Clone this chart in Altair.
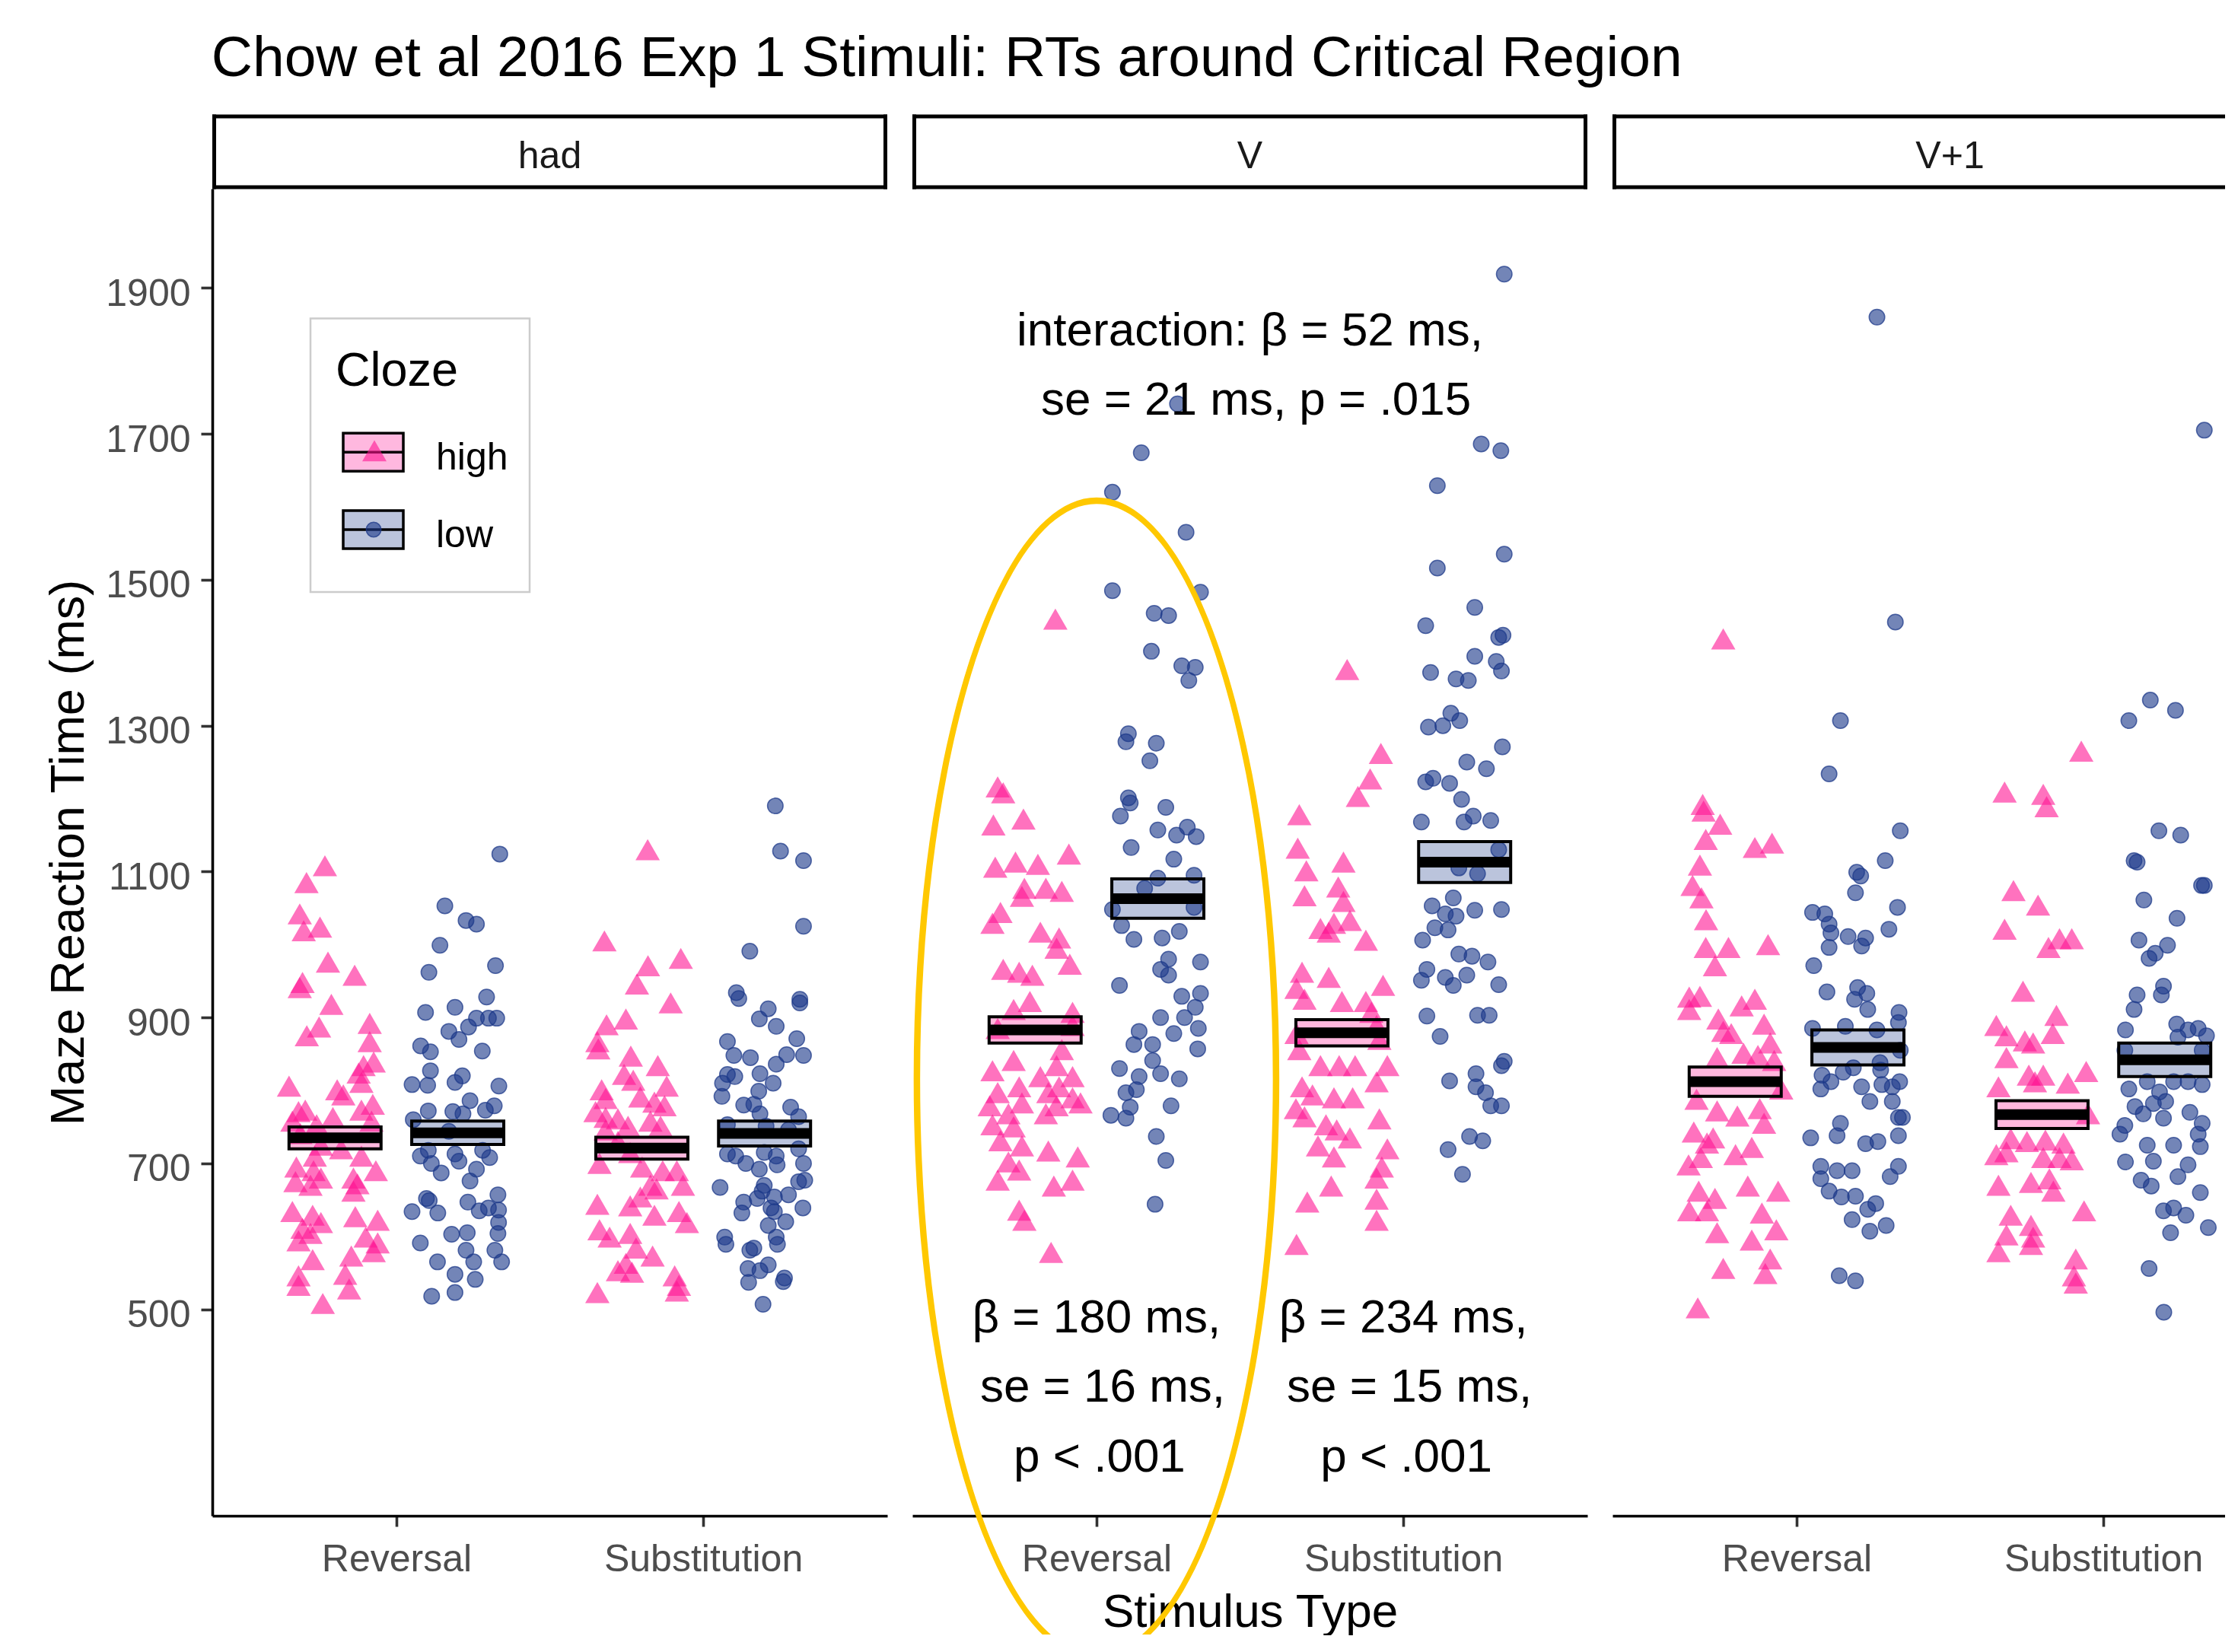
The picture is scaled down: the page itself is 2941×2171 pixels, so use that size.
import altair as alt
import pandas as pd

FONT = "Liberation Sans"
PINK = "#FF1493"
NAVY = "#1D3A8A"
PINK_LIGHT = "#FFB8DF"
NAVY_LIGHT = "#BBC4DC"
GOLD = "#FFC800"

# ---------------- data ----------------
panels = ["had", "V", "V+1"]
stimuli = ["Reversal", "Substitution"]
cloze_levels = ["high", "low"]

# RTs (ms) and horizontal jitter (category units) of every point
had_rev_high_rt = [1108, 1085, 1042, 1019, 1024, 976, 958, 948, 941, 918, 892, 887, 875, 867, 834, 839, 806, 801, 794, 811,
                   824, 771, 773, 781, 773, 763, 753, 758, 758, 741, 725, 720, 710, 710, 695, 690, 680, 680, 672, 690,
                   675, 670, 662, 634, 629, 619, 627, 622, 611, 594, 604, 599, 591, 579, 568, 573, 546, 548, 533, 528, 508]
had_rev_high_jit = [-0.033, -0.093, -0.115, -0.102, -0.049, -0.023, 0.064, -0.106, -0.115, -0.012, 0.113, -0.052, -0.092, 0.113,
                    0.093, 0.126, -0.150, 0.007, 0.027, 0.086, 0.077, -0.119, -0.097, 0.123, 0.086, -0.007, -0.060, -0.139,
                    0.119, -0.113, -0.046, 0.020, 0.086, -0.066, -0.126, -0.070, -0.046, 0.060, 0.073, 0.133, -0.129, -0.080,
                    0.060, -0.139, -0.073, -0.046, 0.066, 0.139, -0.106, -0.119, -0.080, 0.100, 0.139, 0.126, -0.073, 0.053,
                    -0.119, 0.033, -0.119, 0.046, -0.040]
had_rev_low_rt = [1124, 1053, 1033, 1028, 999, 971, 962, 928, 907, 914, 899, 899, 899, 881, 887, 870, 861, 853, 854, 827,
                  808, 807, 811, 820, 806, 786, 779, 773, 772, 771, 768, 760, 744, 710, 718, 713, 703, 718, 708, 700,
                  687, 692, 676, 652, 649, 634, 632, 647, 635, 657, 636, 639, 619, 604, 603, 605, 591, 581, 581, 565,
                  565, 565, 548, 541, 518, 523]
had_rev_low_jit = [0.137, -0.042, 0.027, 0.061, -0.058, 0.123, -0.094, 0.094, -0.105, -0.009, 0.061, 0.100, 0.127, -0.029,
                   0.035, 0.004, -0.121, -0.089, 0.080, -0.089, -0.149, -0.098, -0.009, 0.015, 0.134, 0.040, 0.119, 0.090,
                   -0.096, -0.016, 0.017, -0.145, -0.029, -0.122, -0.096, -0.009, 0.004, 0.081, 0.104, -0.086, -0.054, 0.061,
                   0.040, -0.102, -0.093, -0.149, -0.065, 0.033, 0.070, 0.131, 0.133, 0.100, 0.133, 0.131, -0.020, 0.031,
                   -0.122, 0.027, 0.121, -0.066, 0.052, 0.143, -0.009, 0.057, -0.085, -0.009]
had_sub_high_rt = [1130, 1005, 981, 971, 946, 920, 898, 890, 867, 857, 847, 834, 822, 814, 806, 801, 789, 791, 784, 779,
                   771, 763, 761, 751, 758, 751, 746, 730, 715, 700, 695, 690, 690, 670, 670, 654, 665, 644, 642, 629,
                   634, 619, 609, 599, 604, 584, 573, 563, 553, 551, 546, 533, 523, 525]
had_sub_high_jit = [0.019, -0.122, 0.127, 0.020, -0.016, 0.094, -0.052, -0.115, -0.145, -0.142, -0.036, 0.052, -0.058, -0.028,
                    0.081, -0.131, -0.118, -0.005, 0.041, 0.074, -0.151, -0.118, -0.078, -0.045, 0.028, 0.061, -0.118, -0.078,
                    -0.038, -0.138, 0.001, 0.068, 0.114, 0.028, 0.134, -0.005, 0.048, -0.145, -0.038, 0.041, 0.121, 0.147,
                    -0.138, -0.105, -0.038, -0.019, 0.035, -0.052, -0.078, -0.032, 0.107, 0.121, -0.145, 0.114]
had_sub_low_rt = [1190, 1128, 1115, 1025, 991, 934, 926, 925, 920, 912, 898, 888, 871, 867, 848, 845, 849, 848, 836, 823,
                  822, 819, 810, 810, 799, 792, 780, 781, 777, 768, 764, 753, 751, 746, 720, 713, 710, 700, 715, 710,
                  698, 692, 700, 667, 670, 662, 675, 677, 657, 654, 647, 652, 639, 632, 634, 639, 620, 615, 599, 589,
                  599, 589, 581, 584, 556, 561, 553, 543, 538, 537, 507]
had_sub_low_jit = [0.035, 0.052, 0.127, 0.127, -0.048, -0.092, -0.084, 0.115, 0.115, 0.012, -0.017, 0.038, 0.105, -0.121,
                   -0.100, -0.046, 0.072, 0.127, 0.038, -0.015, -0.121, -0.097, 0.028, -0.137, -0.019, -0.139, -0.068, -0.035,
                   0.085, -0.015, 0.111, -0.121, 0.005, 0.078, 0.111, -0.121, -0.094, -0.061, -0.001, 0.038, 0.041, -0.017,
                   0.127, -0.145, -0.001, -0.008, 0.111, 0.131, 0.078, 0.032, -0.068, -0.024, 0.021, -0.074, 0.032, 0.125,
                   0.069, 0.012, -0.130, -0.126, 0.038, 0.042, -0.048, -0.035, -0.054, 0.012, -0.015, 0.065, 0.061, -0.052,
                   -0.005]

v_rev_high_rt = [1446, 1216, 1208, 1164, 1172, 1106, 1113, 1110, 1124, 1077, 1066, 1077, 1073, 1044, 1029,
                 1017, 1009, 995, 973, 966, 962, 958, 922, 911, 907, 827, 841, 819, 834, 819, 783, 797, 805, 797, 805,
                 779, 768, 783, 779, 790, 753, 750, 768, 731, 724, 717, 709, 702, 691, 677, 677, 669, 636, 622, 578,
                 885, 889, 856]
v_rev_high_jit = [0.066, -0.122, -0.104, -0.136, -0.038, -0.130, -0.064, 0.009, 0.110, -0.035, -0.043, 0.035, 0.087, -0.113,
                  -0.139, 0.017, 0.078, 0.070, 0.113, -0.104, -0.052, -0.009, -0.017, -0.070, 0.122, -0.139, -0.070, 0.017,
                  0.070, 0.122, 0.148, -0.122, -0.052, 0.043, 0.078, -0.148, -0.087, -0.043, 0.070, 0.122, -0.139, -0.070,
                  0.035, -0.113, -0.043, 0.043, 0.139, -0.087, -0.052, 0.122, -0.122, 0.061, -0.052, -0.035, 0.052, -0.122,
                  0.122, 0.087]
v_rev_low_rt = [1741, 1674, 1620, 1565, 1483, 1485, 1454, 1451, 1402, 1382, 1380, 1362, 1289, 1278, 1276, 1252, 1201,
                1194, 1176, 1188, 1157, 1161, 1150, 1148, 1133, 1117, 1095, 1091, 1077, 1051, 1048, 1026, 1007, 1009,
                1018, 944, 976, 980, 966, 958, 929, 933, 914, 900, 900, 881, 863, 863, 878, 885, 857, 841, 823, 830,
                819, 816, 797, 801, 779, 777, 766, 762, 737, 704, 644]
v_rev_low_jit = [0.064, -0.054, -0.148, 0.092, 0.139, -0.148, -0.012, 0.035, -0.021, 0.078, 0.122, 0.101, -0.096, -0.104,
                 -0.005, -0.026, -0.096, -0.090, -0.122, 0.026, 0.0, 0.096, 0.061, 0.125, -0.087, 0.052, 0.118, 0.0,
                 -0.043, 0.118, -0.148, -0.118, -0.078, 0.014, 0.070, -0.125, 0.139, 0.035, 0.009, 0.035, 0.078, 0.139,
                 0.122, 0.009, 0.087, -0.061, -0.078, -0.017, 0.052, 0.132, 0.130, -0.017, 0.009, -0.125, -0.061, 0.070,
                 -0.104, -0.070, 0.043, -0.090, -0.153, -0.104, -0.005, 0.026, -0.009]
v_sub_high_rt = [1377, 1262, 1227, 1203, 1178, 1132, 1101, 1113, 1067, 1079, 1059, 1022, 1033, 1029,
                 1006, 1017, 962, 955, 944, 940, 925, 922, 922, 907, 856, 834, 834, 834, 834, 812, 805, 794, 790, 790,
                 775, 764, 761, 753, 746, 735, 720, 724, 709, 695, 680, 669, 647, 651, 622, 589, 878, 870, 889]
v_sub_high_jit = [0.017, 0.127, 0.092, 0.052, -0.139, -0.144, -0.116, 0.005, -0.122, -0.012, 0.005, -0.070, 0.026, -0.026,
                  0.078, -0.043, -0.130, -0.043, 0.134, -0.148, -0.122, 0.0, 0.078, 0.096, -0.139, -0.070, -0.009, 0.043,
                  0.148, 0.113, -0.130, -0.096, -0.026, 0.035, -0.150, -0.122, 0.122, -0.052, -0.017, 0.026, 0.148, -0.078,
                  -0.026, 0.130, 0.113, -0.035, -0.113, 0.113, 0.113, -0.148, -0.148, 0.122, 0.113]
v_sub_low_rt = [1919, 1686, 1677, 1629, 1535, 1516, 1462, 1437, 1421, 1424, 1395, 1373, 1364, 1362, 1388, 1375, 1317,
                1298, 1300, 1307, 1271, 1250, 1241, 1223, 1228, 1221, 1199, 1176, 1168, 1170, 1168,
                1130, 1105, 1097, 1064, 1047, 1048, 1053, 1042, 1039, 1023, 1020, 1006, 987, 984, 976, 966, 955, 958,
                951, 944, 945, 903, 903, 902, 874, 834, 840, 813, 823, 805, 797, 779, 779, 737, 731, 719, 685]
v_sub_low_jit = [0.129, 0.054, 0.118, -0.089, 0.129, -0.089, 0.033, -0.127, 0.111, 0.125, 0.033, -0.111, -0.028, 0.012,
                 0.103, 0.120, -0.045, -0.118, -0.071, -0.016, 0.123, 0.007, 0.071, -0.127, -0.103, -0.049, -0.010, 0.028,
                 -0.141, 0.085, -0.002, 0.111, -0.019, 0.042, -0.037, 0.033, 0.120, -0.106, -0.063, -0.028, -0.097, -0.054,
                 -0.137, -0.019, 0.024, 0.076, -0.123, -0.063, 0.007, -0.141, -0.037, 0.111, 0.042, 0.080, -0.123, -0.080,
                 0.120, 0.129, -0.049, 0.037, 0.037, 0.068, 0.085, 0.120, 0.016, 0.059, -0.054, -0.007]

vp1_rev_high_rt = [1419, 1192, 1183, 1165, 1144, 1133, 1139, 1109, 1081, 1064, 1034, 996, 996, 1000, 971, 928, 929, 911,
                   916, 925, 898, 881, 878, 891, 865, 845, 851, 848, 841, 788, 772, 765, 775, 755, 743, 728, 735, 712,
                   722, 698, 708, 662, 652, 669, 662, 635, 635, 632, 605, 595, 609, 569, 556, 549, 502, 802]
vp1_rev_high_jit = [-0.039, -0.106, -0.103, -0.049, -0.096, 0.064, 0.120, -0.115, -0.139, -0.110, -0.095, -0.096, -0.022,
                    0.107, -0.066, -0.150, -0.115, -0.150, 0.021, 0.064, -0.055, -0.039, -0.013, 0.094, 0.114, -0.059,
                    0.027, 0.074, 0.127, -0.126, -0.059, 0.007, 0.080, 0.094, -0.135, -0.092, -0.072, 0.001, 0.054,
                    -0.152, -0.112, -0.119, -0.066, 0.041, 0.140, -0.150, -0.092, 0.087, -0.059, 0.054, 0.134, 0.114,
                    -0.039, 0.098, -0.122, 0.150]
vp1_rev_low_rt = [1860, 1442, 1307, 1234, 1156, 1115, 1099, 1094, 1071, 1051, 1044, 1042, 1028, 1016, 1011, 1009, 1021,
                  998, 996, 971, 935, 941, 933, 925, 911, 907, 893, 885, 888, 883, 821, 812, 802, 825, 831, 828, 805,
                  785, 808, 805, 812, 785, 763, 763, 735, 738, 755, 727, 730, 738, 696, 690, 690, 696, 682, 679, 662,
                  654, 655, 645, 637, 623, 607, 615, 546, 539, 855, 838]
vp1_rev_low_jit = [0.062, 0.122, -0.057, -0.094, 0.138, 0.089, -0.004, 0.009, -0.008, 0.129, -0.148, -0.108, -0.094, -0.088,
                   -0.032, 0.025, 0.101, 0.012, -0.094, -0.144, -0.101, -0.001, 0.029, -0.011, 0.032, 0.134, 0.132, -0.148,
                   -0.041, 0.062, -0.117, -0.088, -0.121, -0.048, -0.015, 0.074, 0.012, 0.039, 0.078, 0.112, 0.136, 0.112,
                   0.132, 0.145, -0.154, -0.068, -0.057, 0.025, 0.065, 0.132, -0.121, -0.068, -0.019, 0.132, 0.105,
                   -0.121, -0.094, -0.054, -0.008, 0.058, 0.032, -0.019, 0.039, 0.092, -0.061, -0.008, 0.138, 0.072]
vp1_sub_high_rt = [1265, 1209, 1206, 1189, 1074, 1054, 1021, 996, 1008, 1008, 936, 889, 875, 868, 865, 903, 878, 845, 826,
                   821, 821, 805, 810, 812, 734, 730, 732, 728, 712, 716, 708, 708, 705, 670, 674, 679, 662, 635, 629,
                   615, 602, 599, 589, 579, 569, 546, 536, 768]
vp1_sub_high_jit = [0.128, -0.122, 0.004, 0.015, -0.093, -0.013, -0.122, 0.021, 0.057, 0.097, -0.062, -0.149, -0.116,
                    -0.056, -0.029, 0.047, 0.035, -0.116, 0.144, -0.043, 0.004, -0.142, 0.084, -0.023, -0.102, -0.049,
                    0.011, 0.070, -0.149, -0.116, 0.004, 0.057, 0.097, -0.142, -0.036, 0.024, 0.037, 0.137, -0.102,
                    -0.036, -0.116, -0.029, -0.036, -0.142, 0.110, 0.104, 0.110, 0.150]
vp1_sub_low_rt = [1705, 1335, 1307, 1321, 1156, 1150, 1115, 1113, 1081, 1081, 1061, 1036, 1006, 999, 988, 981, 943, 931,
                  931, 911, 883, 891, 883, 885, 875, 873, 808, 812, 812, 812, 802, 798, 785, 782, 778, 768, 762, 770,
                  755, 752, 740, 740, 723, 725, 725, 703, 702, 698, 682, 677, 669, 660, 639, 635, 629, 612, 605, 556,
                  496, 855, 855]
vp1_sub_low_jit = [0.129, -0.047, -0.117, 0.035, -0.019, 0.052, -0.100, -0.090, 0.120, 0.129, -0.068, 0.040, -0.084, 0.009,
                   -0.031, -0.051, -0.004, -0.011, -0.090, -0.100, -0.128, 0.039, 0.076, 0.109, 0.136, 0.043, 0.122, 0.076,
                   0.029, -0.057, -0.117, -0.017, 0.003, -0.037, -0.097, -0.070, -0.004, 0.082, 0.122, -0.130, -0.146,
                   0.109, 0.116, -0.057, 0.029, -0.037, -0.128, 0.076, 0.043, -0.077, -0.044, 0.116, 0.029, -0.004, 0.069,
                   0.142, 0.019, -0.051, -0.003, -0.130, 0.122]

# crossbars: mean +/- se per group
cb_panel = ["had"] * 4 + ["V"] * 4 + ["V+1"] * 4
cb_stim = ["Reversal", "Reversal", "Substitution", "Substitution"] * 3
cb_cloze = ["high", "low", "high", "low"] * 3
cb_mean = [735, 742, 721, 741, 883, 1063, 879, 1113, 812, 859, 767, 842]
cb_se = [15, 16, 15, 17, 18, 27, 18, 28, 20, 24, 19, 23]

# annotations in panel V
ann_text = ["interaction: β = 52 ms,", "se = 21 ms, p = .015",
            "β = 180 ms,", "se = 16 ms,", "p < .001",
            "β = 234 ms,", "se = 15 ms,", "p < .001"]
ann_x = [1.5, 1.52, 1.0, 1.02, 1.01, 2.0, 2.02, 2.01]
ann_y = [1821, 1726, 468, 373, 277, 468, 373, 277]

y_ticks = [500, 700, 900, 1100, 1300, 1500, 1700, 1900]
legend_labels = ["high", "low"]

# ---------------- tables ----------------
groups = [
    ("had", "Reversal", "high", had_rev_high_rt, had_rev_high_jit),
    ("had", "Reversal", "low", had_rev_low_rt, had_rev_low_jit),
    ("had", "Substitution", "high", had_sub_high_rt, had_sub_high_jit),
    ("had", "Substitution", "low", had_sub_low_rt, had_sub_low_jit),
    ("V", "Reversal", "high", v_rev_high_rt, v_rev_high_jit),
    ("V", "Reversal", "low", v_rev_low_rt, v_rev_low_jit),
    ("V", "Substitution", "high", v_sub_high_rt, v_sub_high_jit),
    ("V", "Substitution", "low", v_sub_low_rt, v_sub_low_jit),
    ("V+1", "Reversal", "high", vp1_rev_high_rt, vp1_rev_high_jit),
    ("V+1", "Reversal", "low", vp1_rev_low_rt, vp1_rev_low_jit),
    ("V+1", "Substitution", "high", vp1_sub_high_rt, vp1_sub_high_jit),
    ("V+1", "Substitution", "low", vp1_sub_low_rt, vp1_sub_low_jit),
]
stim_pos = {"Reversal": 1.0, "Substitution": 2.0}
dodge = {"high": -0.2, "low": 0.2}

rows = []
for panel, stim, cloze, rts, jits in groups:
    for rt, j in zip(rts, jits):
        rows.append({"panel": panel, "stim": stim, "cloze": cloze, "rt": rt,
                     "xpos": stim_pos[stim] + dodge[cloze] + j})
pts = pd.DataFrame(rows)

cb = pd.DataFrame({"panel": cb_panel, "stim": cb_stim, "cloze": cb_cloze, "mean": cb_mean, "se": cb_se})
cb["xc"] = cb["stim"].map(stim_pos) + cb["cloze"].map(dodge)
cb["x_lo"] = cb["xc"] - 0.15
cb["x_hi"] = cb["xc"] + 0.15
cb["lo"] = cb["mean"] - cb["se"]
cb["hi"] = cb["mean"] + cb["se"]

ann = pd.DataFrame({"text": ann_text, "x": ann_x, "y": ann_y})

# ---------------- layout ----------------
PANEL_W = 887
PLOT_H = 1744
PX_PER_UNIT = PANEL_W / 2.2
widths = {"had": PANEL_W, "V": PANEL_W, "V+1": 805}
YDOM = [217, 2036]

# gold ellipse drawn as a filled ring (no stroke, so its bounds stay tight), open at the very bottom
ELLIPSE_RING = (
    "M -0.09306 0.95518 "
    "A 0.31436 1 0 0 1 -0.31436 0 A 0.31436 1 0 0 1 0 -1 "
    "A 0.31436 1 0 0 1 0.31436 0 A 0.31436 1 0 0 1 0.09306 0.95518 "
    "L 0.07849 0.95518 "
    "A 0.30324 0.98888 0 0 0 0.30324 0 A 0.30324 0.98888 0 0 0 0 -0.98888 "
    "A 0.30324 0.98888 0 0 0 -0.30324 0 A 0.30324 0.98888 0 0 0 -0.07849 0.95518 Z"
)
ELLIPSE_SIZE = 1528.5 ** 2


def one(label):
    return pd.DataFrame({"label": [label]})


def bar(s, x1, x2, y1, y2, color):
    return s.mark_rect(fill=color).encode(
        x=alt.value(x1), x2=alt.value(x2), y=alt.value(y1), y2=alt.value(y2))


def strip_layers(name, w, closed):
    s = alt.Chart(one(name))
    out = [bar(s, 0, w, -97.5, 0.5, "white"),
           bar(s, 0, w, -97.5, -92.5, "black"),
           bar(s, 0, w, -4.5, 0.5, "black"),
           bar(s, 0, 5, -97.5, 0.5, "black")]
    if closed:
        out.append(bar(s, w - 5, w, -97.5, 0.5, "black"))
    out.append(s.mark_text(font=FONT, fontSize=50, color="#1A1A1A", baseline="alphabetic", align="center").encode(
        x=alt.value(PANEL_W / 2), y=alt.value(-27.5), text="label:N"))
    return out


def make_panel(name):
    w = widths[name]
    xmax = 0.4 + w / PX_PER_UNIT
    xscale = alt.Scale(domain=[0.4, xmax], nice=False, zero=False)
    yscale = alt.Scale(domain=YDOM, nice=False, zero=False)
    xax = dict(values=[1, 2], labelExpr="datum.value == 1 ? 'Reversal' : 'Substitution'",
               grid=False, tickSize=14, labelPadding=18, labelFontSize=50, labelLimit=800,
               titleFontSize=62, titlePadding=14)
    xaxis = alt.Axis(title="Stimulus Type", **xax) if name == "V" else alt.Axis(title=None, **xax)
    if name == "had":
        yaxis = alt.Axis(values=y_ticks, format="d", title="Maze Reaction Time (ms)", grid=False,
                         tickSize=15, labelPadding=14, labelFontSize=50, labelOffset=8, labelLimit=800,
                         titleFontSize=63, titlePadding=16)
    else:
        yaxis = None

    def X(f):
        return alt.X(f, type="quantitative", scale=xscale, axis=xaxis)

    def Y(f):
        return alt.Y(f, type="quantitative", scale=yscale, axis=yaxis)

    p = pts[pts["panel"] == name]
    c = cb[cb["panel"] == name]
    layers = []
    layers.append(alt.Chart(p[p["cloze"] == "high"]).mark_point(
        shape="triangle-up", filled=True, size=1024, color=PINK, opacity=0.6
    ).encode(x=X("xpos"), y=Y("rt")))
    layers.append(alt.Chart(p[p["cloze"] == "low"]).mark_point(
        shape="circle", filled=True, size=420, fill=NAVY, fillOpacity=0.62,
        stroke=NAVY, strokeOpacity=0.75, strokeWidth=1.5, opacity=1
    ).encode(x=X("xpos"), y=Y("rt")))
    layers.append(alt.Chart(c).mark_rect(stroke="black", strokeWidth=4, fillOpacity=0.3).encode(
        x=X("x_lo"), x2="x_hi", y=Y("lo"), y2="hi",
        fill=alt.Fill("cloze:N", scale=alt.Scale(domain=cloze_levels, range=[PINK, NAVY]), legend=None)))
    layers.append(alt.Chart(c).mark_rule(color="black", strokeWidth=14).encode(
        x=X("x_lo"), x2="x_hi", y=Y("mean")))

    layers.extend(strip_layers(name, w, closed=(name != "V+1")))

    if name == "had":
        # legend
        layers.append(alt.Chart(one("box")).mark_rect(fill="white", stroke="#CCCCCC", strokeWidth=2.5).encode(
            x=alt.value(129), x2=alt.value(417), y=alt.value(170.6), y2=alt.value(530)))
        layers.append(alt.Chart(one("Cloze")).mark_text(font=FONT, fontSize=63, color="black", align="left",
                                                          baseline="alphabetic").encode(
            x=alt.value(162), y=alt.value(258.6), text="label:N"))
        key_tops = [321.3, 423]
        fills = [PINK_LIGHT, NAVY_LIGHT]
        for i, lab in enumerate(legend_labels):
            t = key_tops[i]
            d = alt.Chart(one(lab))
            layers.append(d.mark_rect(fill=fills[i], stroke="black", strokeWidth=3.5).encode(
                x=alt.value(172), x2=alt.value(251), y=alt.value(t), y2=alt.value(t + 50)))
            layers.append(d.mark_rule(color="black", strokeWidth=3.5).encode(
                x=alt.value(172), x2=alt.value(251), y=alt.value(t + 25)))
            if lab == "high":
                layers.append(d.mark_point(shape="triangle-up", filled=True, size=1024, color=PINK, opacity=0.6).encode(
                    x=alt.value(213), y=alt.value(t + 23)))
            else:
                layers.append(d.mark_point(shape="circle", filled=True, size=380, fill=NAVY, fillOpacity=0.62,
                                           stroke=NAVY, strokeOpacity=0.75, strokeWidth=1.5, opacity=1).encode(
                    x=alt.value(212), y=alt.value(t + 25)))
            layers.append(d.mark_text(font=FONT, fontSize=50, color="black", align="left", baseline="alphabetic").encode(
                x=alt.value(294), y=alt.value(t + 47.5), text="label:N"))

    if name == "V":
        layers.append(alt.Chart(ann).mark_text(font=FONT, fontSize=62, color="black", align="center",
                                               baseline="alphabetic").encode(
            x=X("x"), y=Y("y"), text="text:N"))
        layers.append(alt.Chart(pd.DataFrame({"x": [1.0], "y": [815.7]})).mark_point(
            shape=ELLIPSE_RING, size=ELLIPSE_SIZE, filled=True, color=GOLD, opacity=1
        ).encode(x=X("x"), y=Y("y")))

    return alt.layer(*layers).properties(width=w, height=PLOT_H)


chart = alt.hconcat(*[make_panel(n) for n in panels], spacing=33).properties(
    title=alt.TitleParams(text="Chow et al 2016 Exp 1 Stimuli: RTs around Critical Region",
                          anchor="start", fontSize=75, font=FONT, fontWeight="normal",
                          color="black", dx=218, offset=34.5),
    padding={"left": 51, "top": 32, "right": 0, "bottom": 0},
    background="white",
).configure_view(stroke=None).configure_axis(
    labelFont=FONT, titleFont=FONT, domainColor="black", domainWidth=3.6,
    tickColor="#333333", tickWidth=3.6, labelColor="#4D4D4D", titleColor="black",
    titleFontWeight="normal", grid=False,
)

chart.save("out.html", embed_options={"renderer": "svg", "actions": False})
